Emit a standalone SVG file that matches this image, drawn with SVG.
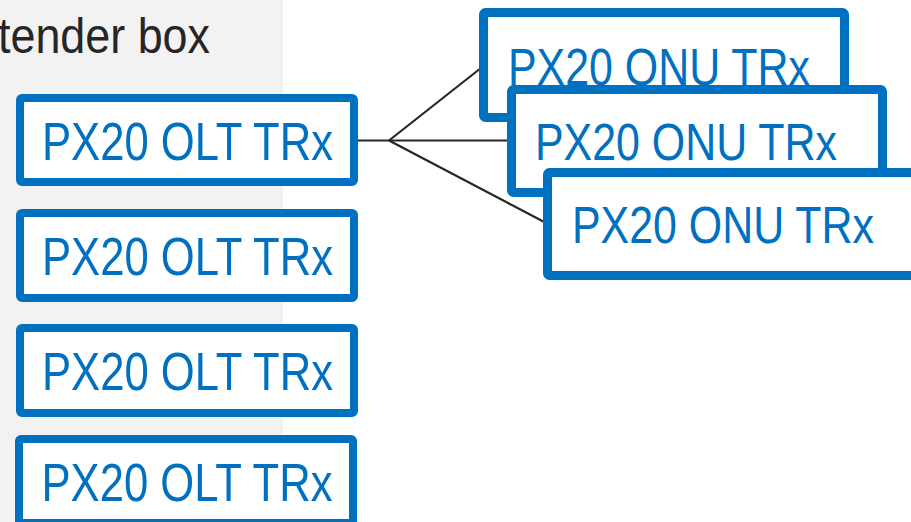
<svg xmlns="http://www.w3.org/2000/svg" width="911" height="522" viewBox="0 0 911 522">
  <style>
    .panel { fill: #f2f2f2; }
    .title { font-family: "Liberation Sans", Arial, sans-serif; font-size: 50px; fill: #262626; }
    .box { fill: #ffffff; stroke: #0070c0; }
    .olt .box { stroke-width: 8; }
    .onu .box { stroke-width: 9; }
    .label { font-family: "Liberation Sans", Arial, sans-serif; fill: #0070c0; }
    .olt .label { font-size: 53px; }
    .onu .label { font-size: 52px; }
    .wire { fill: none; stroke: #262626; stroke-width: 2.2; }
  </style>

  <!-- extender box panel -->
  <rect class="panel" x="0" y="0" width="283" height="522"/>
  <text class="title" x="-2" y="53" textLength="212" lengthAdjust="spacingAndGlyphs">tender box</text>

  <!-- splitter wiring -->
  <g id="connectors">
    <polyline class="wire" points="354,140.5 389,140.5"/>
    <polyline class="wire" points="389,140.5 483.5,66"/>
    <polyline class="wire" points="389,140.5 511,140.5"/>
    <polyline class="wire" points="389,140.5 548,224"/>
  </g>

  <!-- OLT transceivers -->
  <g id="olt1" class="olt">
    <rect class="box" x="20" y="98" width="334" height="84" rx="2"/>
    <text class="label" x="42" y="160" textLength="291" lengthAdjust="spacingAndGlyphs">PX20 OLT TRx</text>
  </g>
  <g id="olt2" class="olt">
    <rect class="box" x="20" y="213" width="334" height="85" rx="2"/>
    <text class="label" x="42" y="275" textLength="291" lengthAdjust="spacingAndGlyphs">PX20 OLT TRx</text>
  </g>
  <g id="olt3" class="olt">
    <rect class="box" x="20" y="328" width="334" height="85" rx="2"/>
    <text class="label" x="42" y="390" textLength="291" lengthAdjust="spacingAndGlyphs">PX20 OLT TRx</text>
  </g>
  <g id="olt4" class="olt">
    <rect class="box" x="19" y="439" width="334" height="84" rx="2"/>
    <text class="label" x="41.5" y="501" textLength="291" lengthAdjust="spacingAndGlyphs">PX20 OLT TRx</text>
  </g>

  <!-- ONU transceivers (stacked) -->
  <g id="onu1" class="onu">
    <rect class="box" x="483.5" y="12.5" width="361" height="105" rx="2"/>
    <text class="label" x="508" y="85" textLength="302" lengthAdjust="spacingAndGlyphs">PX20 ONU TRx</text>
  </g>
  <g id="onu2" class="onu">
    <rect class="box" x="511.5" y="89.5" width="371" height="103" rx="2"/>
    <text class="label" x="535" y="160" textLength="302" lengthAdjust="spacingAndGlyphs">PX20 ONU TRx</text>
  </g>
  <g id="onu3" class="onu">
    <rect class="box" x="547.5" y="172.5" width="380" height="103" rx="2"/>
    <text class="label" x="572" y="243" textLength="302" lengthAdjust="spacingAndGlyphs">PX20 ONU TRx</text>
  </g>
</svg>
